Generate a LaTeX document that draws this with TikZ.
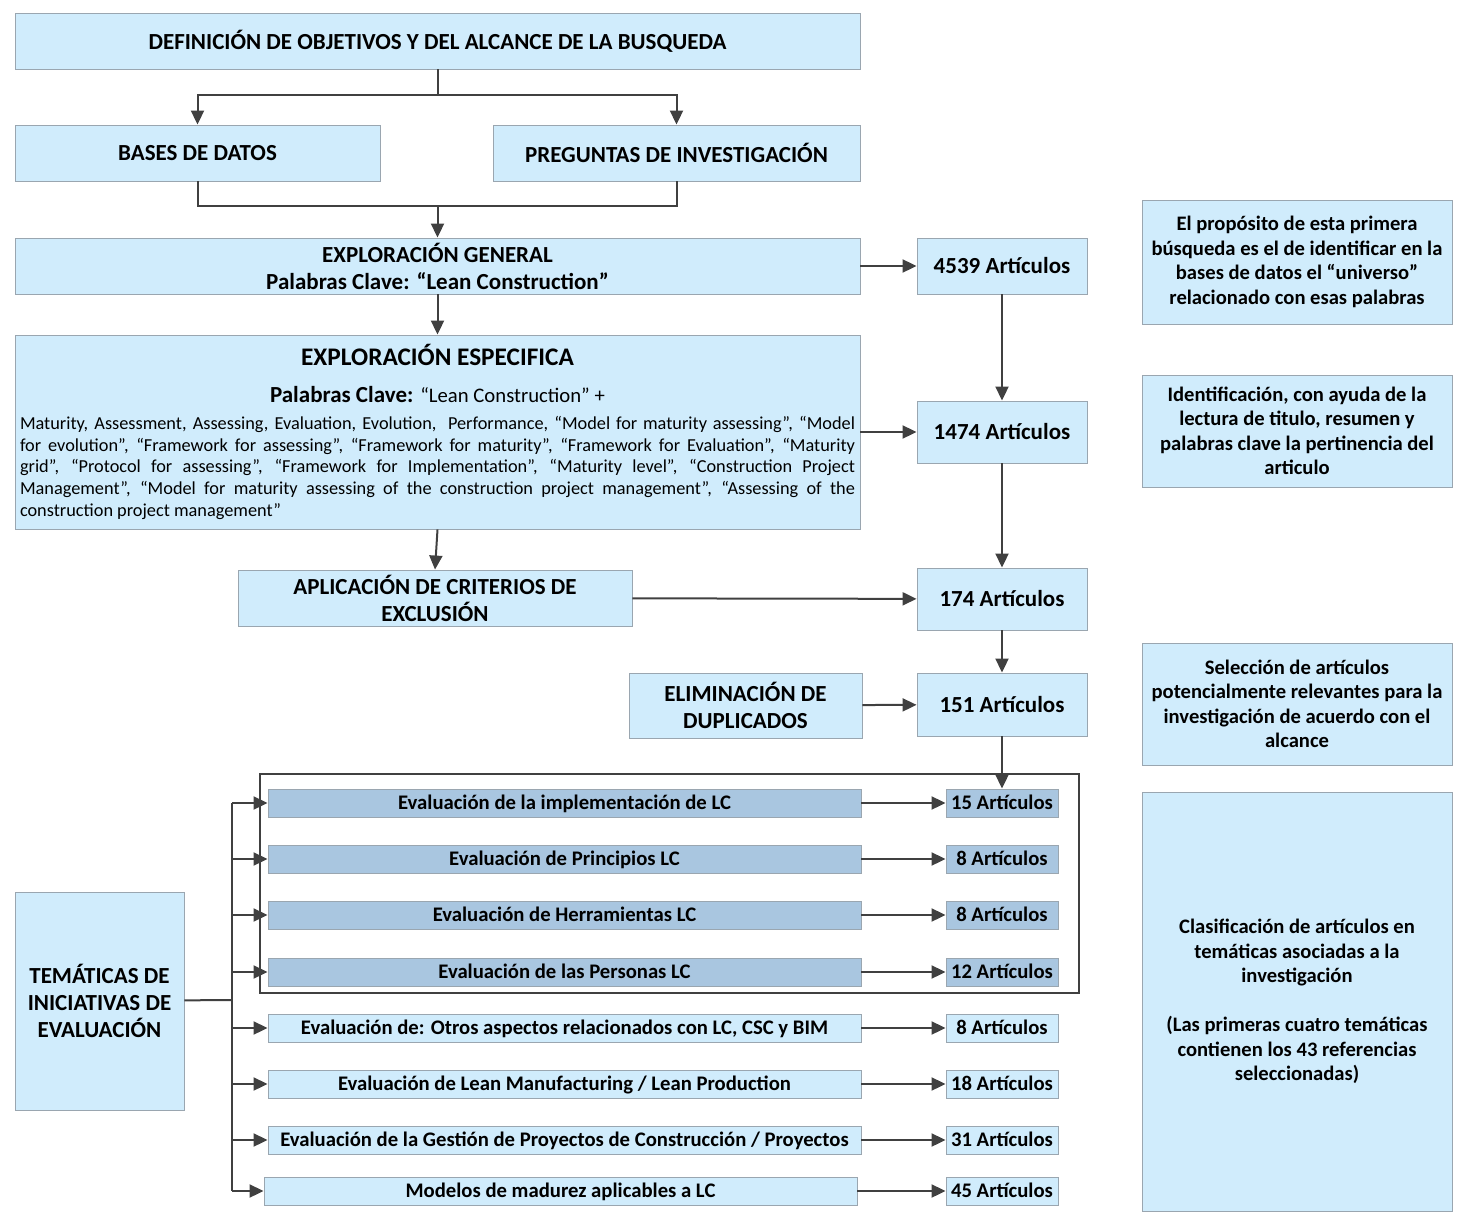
\documentclass[tikz,border=0pt]{standalone}
\usepackage{fontspec}
\setmainfont{Carlito}
\usetikzlibrary{arrows.meta, positioning}

\definecolor{boxfill}{HTML}{D0ECFC}
\definecolor{topicfill}{HTML}{A9C6E0}
\definecolor{boxline}{HTML}{9AA6B0}
\definecolor{linegray}{HTML}{404040}

\begin{document}
\begin{tikzpicture}[
	x=1pt, y=-1pt,
	box/.style = {draw=boxline, fill=boxfill, line width=0.9pt, inner sep=2pt, align=center, font=\bfseries\fontsize{23}{27}\selectfont},
	topic/.style = {box, minimum width=593pt, minimum height=28pt, text height=16pt, text depth=2.6pt, font=\bfseries\fontsize{20.7}{24}\selectfont},
	count/.style = {box, minimum width=112pt, minimum height=28pt, text height=16pt, text depth=2.6pt, font=\bfseries\fontsize{20.7}{24}\selectfont},
	total/.style = {box, minimum width=170pt},
	note/.style = {box, minimum width=310pt, font=\bfseries\fontsize{20.6}{24.5}\selectfont},
	line/.style = {draw=linegray, line width=2pt},
	arrow/.style = {line, -{Triangle[length=14pt, width=13pt]}}
]
\useasboundingbox (0,0) rectangle (1466,1230);

% main column
\node[box, minimum width=845pt, minimum height=56pt] (definicion) at (437.5,41) {DEFINICIÓN DE OBJETIVOS Y DEL ALCANCE DE LA BUSQUEDA};
\node[box, minimum width=365pt, minimum height=56pt] (bases) at (197.5,153) {BASES DE DATOS};
\node[box, minimum width=367pt, minimum height=56pt] (preguntas) at (676.5,153) {PREGUNTAS DE INVESTIGACIÓN};
\node[box, minimum width=845pt, minimum height=56pt] (general) at (437.5,266) {EXPLORACIÓN GENERAL\\Palabras Clave: “Lean Construction”};
\node[box, minimum width=845pt, minimum height=194pt, text width=835pt, align=justify, inner sep=5pt] (especifica) at (437.5,432) {\parindent=0pt
	{\centering\fontsize{25.3}{34}\selectfont EXPLORACIÓN ESPECIFICA\par}
	{\centering\fontsize{23}{37}\selectfont Palabras Clave: \mdseries\fontsize{20.7}{37}\selectfont “Lean Construction” +\par}
	\vspace{5pt}
	{\mdseries\fontsize{18.3}{21.7}\selectfont Maturity, Assessment, Assessing, Evaluation, Evolution,\ \ Performance, “Model for maturity assessing”, “Model\linebreak for evolution”, “Framework for assessing”, “Framework for maturity”, “Framework for Evaluation”, “Maturity\linebreak grid”, “Protocol for assessing”, “Framework for Implementation”, “Maturity level”, “Construction Project\linebreak Management”, “Model for maturity assessing of the construction project management”, “Assessing of the\linebreak construction project management”\par}};
\node[box, minimum width=394pt, minimum height=56pt] (criterios) at (435,598) {APLICACIÓN DE CRITERIOS DE\\EXCLUSIÓN};
\node[box, minimum width=233pt, minimum height=65pt] (duplicados) at (745.5,705.5) {ELIMINACIÓN DE\\DUPLICADOS};

% article totals
\node[total, minimum height=56pt] (total 4539) at (1002,266) {4539 Artículos};
\node[total, minimum height=62pt] (total 1474) at (1002,432) {1474 Artículos};
\node[total, minimum height=62pt] (total 174) at (1002,599) {174 Artículos};
\node[total, minimum height=63pt] (total 151) at (1002,704.5) {151 Artículos};

% notes on the right
\node[note, minimum height=124pt] (note 1) at (1297,262) {El propósito de esta primera\\búsqueda es el de identificar en la\\bases de datos el “universo”\\relacionado con esas palabras};
\node[note, minimum height=112pt] (note 2) at (1297,431) {Identificación, con ayuda de la\\lectura de titulo, resumen y\\palabras clave la pertinencia del\\articulo};
\node[note, minimum height=122pt] (note 3) at (1297,704) {Selección de artículos\\potencialmente relevantes para la\\investigación de acuerdo con el\\alcance};
\node[note, minimum height=419pt] (note 4) at (1297,1001.5) {Clasificación de artículos en\\temáticas asociadas a la\\investigación\\[24.5pt](Las primeras cuatro temáticas\\contienen los 43 referencias\\seleccionadas)};

% topics
\node[box, minimum width=169pt, minimum height=218pt] (tematicas) at (99.5,1001) {TEMÁTICAS DE\\INICIATIVAS DE\\EVALUACIÓN};
\node[topic, fill=topicfill] (topic 1) at (564.5,803) {Evaluación de la implementación de LC};
\node[topic, fill=topicfill] (topic 2) at (564.5,859) {Evaluación de Principios LC};
\node[topic, fill=topicfill] (topic 3) at (564.5,915) {Evaluación de Herramientas LC};
\node[topic, fill=topicfill] (topic 4) at (564.5,972) {Evaluación de las Personas LC};
\node[topic] (topic 5) at (564.5,1028) {Evaluación de: Otros aspectos relacionados con LC, CSC y BIM};
\node[topic] (topic 6) at (564.5,1084) {Evaluación de Lean Manufacturing / Lean Production};
\node[topic] (topic 7) at (564.5,1140) {Evaluación de la Gestión de Proyectos de Construcción / Proyectos};
\node[topic] (topic 8) at (560.5,1191) {Modelos de madurez aplicables a LC};

\node[count, fill=topicfill] (count 1) at (1002,803) {15 Artículos};
\node[count, fill=topicfill] (count 2) at (1002,859) {8 Artículos};
\node[count, fill=topicfill] (count 3) at (1002,915) {8 Artículos};
\node[count, fill=topicfill] (count 4) at (1002,972) {12 Artículos};
\node[count] (count 5) at (1002,1028) {8 Artículos};
\node[count] (count 6) at (1002,1084) {18 Artículos};
\node[count] (count 7) at (1002,1140) {31 Artículos};
\node[count] (count 8) at (1002,1191) {45 Artículos};

\draw[draw=linegray, line width=2pt] (260,774) rectangle (1079,993);

% connectors
\coordinate (split) at (437.5,95);
\coordinate (join) at (437.5,206);
\coordinate (hub) at (232,1000);

\draw[line] (definicion) -- (split);
\draw[arrow] (split) -| (bases);
\draw[arrow] (split) -| (preguntas);
\draw[line] (bases) |- (join) -| (preguntas);
\draw[arrow] (join) -- (general);
\draw[arrow] (general) -- (especifica);
\draw[arrow] (especifica.south) -- (criterios.north);

\draw[arrow] (general) -- (total 4539);
\draw[arrow] (especifica.east |- total 1474) -- (total 1474);
\draw[arrow] (criterios) -- (total 174);
\draw[arrow] (duplicados) -- (total 151);
\draw[arrow] (total 4539) -- (total 1474);
\draw[arrow] (total 1474) -- (total 174);
\draw[arrow] (total 174) -- (total 151);
\draw[arrow] (total 151) -- (count 1);

\draw[line] (tematicas) -- (hub);
\draw[line] (hub |- topic 1) -- (hub |- topic 8);
\foreach \i in {1,...,8} {
	\draw[arrow] (hub |- topic \i) -- (topic \i);
	\draw[arrow] (topic \i) -- (count \i);
}

\end{tikzpicture}
\end{document}
